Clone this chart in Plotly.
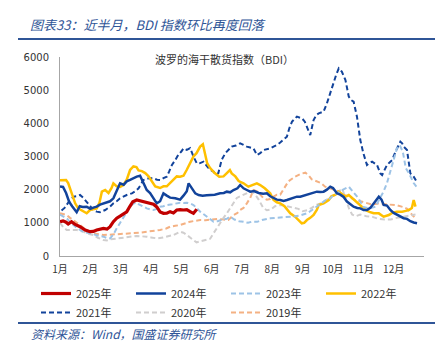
import plotly.graph_objects as go

# ---------------- data (x = month offset from Jan 1, y = BDI) ----------------
month_labels = ["1月", "2月", "3月", "4月", "5月", "6月", "7月", "8月", "9月", "10月", "11月", "12月"]

x_2025 = [0, 0.1, 0.2, 0.27, 0.38, 0.5, 0.66, 0.83, 0.99, 1.1, 1.21, 1.32, 1.43, 1.55, 1.65, 1.76, 1.87, 1.98,
          2.1, 2.2, 2.3, 2.4, 2.53, 2.65, 2.75, 2.86, 2.97, 3.08, 3.19, 3.3, 3.41, 3.52, 3.63, 3.74, 3.85, 3.96,
          4.07, 4.18, 4.29, 4.4, 4.51]
v_2025 = [1035, 1060, 1020, 965, 1035, 950, 884, 784, 733, 740, 784, 800, 834, 810, 884, 1035, 1140, 1200,
          1260, 1330, 1490, 1638, 1688, 1660, 1640, 1620, 1600, 1560, 1480, 1330, 1287, 1290, 1337, 1300, 1387, 1400,
          1387, 1400, 1337, 1287, 1407]

x_2024 = [0, 0.1, 0.2, 0.3, 0.4, 0.5, 0.55, 0.65, 0.75, 0.88, 1.0, 1.1, 1.21, 1.32, 1.43, 1.55, 1.65, 1.76, 1.87,
          1.98, 2.1, 2.2, 2.31, 2.42, 2.53, 2.64, 2.75, 2.86, 2.97, 3.08, 3.19, 3.3, 3.41, 3.52, 3.63, 3.8, 3.96,
          4.07, 4.18, 4.24, 4.35, 4.46, 4.57, 4.7, 4.84, 4.95, 5.1, 5.28, 5.4, 5.5, 5.61, 5.72, 5.85, 5.94, 6.05,
          6.16, 6.27, 6.4, 6.55, 6.7, 6.82, 6.93, 7.04, 7.15, 7.26, 7.37, 7.48, 7.6, 7.7, 7.81, 7.92, 8.03, 8.14,
          8.25, 8.36, 8.47, 8.58, 8.69, 8.8, 8.91, 9.0, 9.13, 9.24, 9.35, 9.46, 9.57, 9.68, 9.8, 9.9, 10.01, 10.12,
          10.23, 10.34, 10.45, 10.51, 10.6, 10.67, 10.78, 10.89, 11.0, 11.11, 11.22, 11.33, 11.44, 11.55, 11.66, 11.77]
v_2024 = [2094, 2080, 1900, 1640, 1500, 1400, 1320, 1500, 1480, 1487, 1420, 1460, 1487, 1550, 1588, 1620, 1650, 1739, 1990,
          2191, 2150, 2250, 2292, 2350, 2392, 2420, 2191, 1990, 1900, 1750, 1588, 1650, 1889, 1820, 1760, 1739, 1700,
          1820, 1950, 2191, 2050, 1889, 1839, 1820, 1830, 1839, 1850, 1889, 1900, 1940, 1920, 1990, 2040, 2141, 2040,
          1990, 1940, 1960, 1900, 1880, 1889, 1800, 1739, 1700, 1688, 1660, 1688, 1720, 1760, 1789, 1789, 1820, 1850,
          1889, 1910, 1940, 1930, 1940, 2000, 2090, 2050, 1890, 1850, 1780, 1640, 1560, 1487, 1450, 1437, 1387, 1387,
          1450, 1588, 1688, 1790, 1700, 1538, 1520, 1387, 1300, 1250, 1200, 1140, 1120, 1050, 1010, 990]

x_2023 = [0, 0.1, 0.22, 0.33, 0.44, 0.55, 0.66, 0.8, 0.99, 1.1, 1.21, 1.32, 1.43, 1.55, 1.65, 1.76, 1.87, 1.98,
          2.09, 2.2, 2.31, 2.42, 2.5, 2.6, 2.75, 2.86, 3.0, 3.08, 3.2, 3.3, 3.41, 3.52, 3.7, 3.85, 3.96, 4.07, 4.18,
          4.3, 4.4, 4.5, 4.62, 4.75, 4.9, 5.06, 5.2, 5.35, 5.5, 5.61, 5.75, 5.9, 6.05, 6.2, 6.33, 6.5, 6.66, 6.8,
          6.93, 7.1, 7.3, 7.5, 7.7, 7.9, 8.14, 8.3, 8.47, 8.6, 8.75, 8.91, 9.02, 9.15, 9.3, 9.52, 9.65, 9.84, 10.0,
          10.2, 10.4, 10.56, 10.67, 10.78, 10.95, 11.11, 11.2, 11.3, 11.4, 11.5, 11.66, 11.75]
v_2023 = [1250, 1200, 1136, 1030, 935, 850, 784, 720, 683, 650, 633, 600, 583, 540, 532, 650, 834, 1000,
          1186, 1330, 1488, 1580, 1610, 1560, 1480, 1437, 1400, 1387, 1420, 1488, 1500, 1538, 1560, 1590, 1608, 1600, 1608,
          1580, 1538, 1450, 1337, 1250, 1150, 1035, 1050, 1100, 1120, 1186, 1100, 1050, 1035, 1000, 1035, 1030, 1085, 1120,
          1136, 1150, 1160, 1180, 1190, 1220, 1287, 1380, 1487, 1588, 1680, 1739, 1840, 1900, 1990, 2090, 1950, 1739, 1480,
          1437, 1488, 1750, 1950, 2200, 2750, 3250, 3340, 3150, 2650, 2500, 2200, 2090]

x_2022 = [0, 0.1, 0.2, 0.27, 0.38, 0.5, 0.6, 0.7, 0.8, 0.88, 0.99, 1.1, 1.21, 1.3, 1.38, 1.49, 1.6, 1.7, 1.76,
          1.87, 1.98, 2.09, 2.2, 2.31, 2.42, 2.52, 2.59, 2.7, 2.81, 2.92, 3.03, 3.14, 3.3, 3.41, 3.52, 3.63, 3.74,
          3.85, 3.96, 4.07, 4.18, 4.29, 4.4, 4.5, 4.62, 4.71, 4.78, 4.85, 4.95, 5.1, 5.25, 5.39, 5.5, 5.6, 5.66,
          5.78, 5.89, 6.05, 6.21, 6.35, 6.49, 6.6, 6.75, 6.93, 7.04, 7.15, 7.26, 7.4, 7.59, 7.75, 7.85, 7.97, 8.05,
          8.14, 8.25, 8.36, 8.47, 8.53, 8.69, 8.86, 8.95, 9.08, 9.19, 9.3, 9.41, 9.52, 9.7, 9.9, 10.07, 10.2, 10.34,
          10.51, 10.67, 10.84, 10.95, 11.11, 11.28, 11.4, 11.5, 11.6, 11.66, 11.72]
v_2022 = [2285, 2290, 2290, 2200, 1889, 1588, 1437, 1380, 1337, 1287, 1387, 1420, 1437, 1600, 1940, 1990, 1900, 2050, 2191,
          2100, 2080, 2141, 2300, 2593, 2700, 2680, 2580, 2560, 2500, 2400, 2241, 2100, 2050, 2100, 2100, 2200, 2300,
          2400, 2390, 2420, 2600, 2800, 3000, 3100, 3300, 3369, 3100, 2800, 2650, 2500, 2390, 2400, 2500, 2593, 2490,
          2400, 2260, 2191, 2090, 2150, 2191, 2140, 2040, 1890, 1688, 1620, 1588, 1500, 1286, 1186, 1080, 985, 1000,
          1085, 1150, 1236, 1400, 1538, 1588, 1688, 1800, 1850, 1940, 1850, 1790, 1839, 1700, 1537, 1387, 1330, 1287,
          1286, 1186, 1236, 1300, 1337, 1337, 1360, 1387, 1450, 1688, 1487]

x_2021 = [0.05, 0.15, 0.3, 0.45, 0.55, 0.66, 0.77, 0.88, 1.0, 1.1, 1.21, 1.32, 1.49, 1.65, 1.76, 1.87, 1.98, 2.09,
          2.2, 2.37, 2.48, 2.59, 2.75, 2.92, 3.08, 3.2, 3.3, 3.41, 3.52, 3.6, 3.69, 3.8, 3.9, 4.0, 4.07, 4.18, 4.29,
          4.4, 4.51, 4.62, 4.73, 4.85, 4.95, 5.06, 5.15, 5.22, 5.33, 5.45, 5.55, 5.66, 5.8, 5.94, 6.05, 6.16, 6.27,
          6.38, 6.49, 6.6, 6.71, 6.82, 6.93, 7.04, 7.15, 7.26, 7.37, 7.48, 7.56, 7.65, 7.81, 7.98, 8.07, 8.14, 8.25,
          8.36, 8.45, 8.53, 8.69, 8.8, 8.9, 9.02, 9.1, 9.19, 9.29, 9.41, 9.52, 9.6, 9.68, 9.79, 9.9, 10.0, 10.12,
          10.2, 10.29, 10.45, 10.56, 10.62, 10.7, 10.78, 10.9, 10.95, 11.06, 11.15, 11.22, 11.28, 11.33, 11.44,
          11.55, 11.66, 11.77]
v_2021 = [1374, 1450, 1650, 1789, 1800, 1839, 1750, 1638, 1500, 1387, 1337, 1320, 1387, 1488, 1588, 1650, 1739, 1800,
          1839, 1889, 1950, 2040, 2292, 2343, 2343, 2300, 2292, 2350, 2392, 2550, 2744, 2894, 3050, 3150, 3246, 3200, 3250,
          3000, 2794, 2800, 2844, 2700, 2600, 2543, 2450, 2500, 2900, 3100, 3200, 3300, 3330, 3397, 3350, 3296, 3270,
          3246, 3045, 3100, 3196, 3220, 3246, 3300, 3347, 3420, 3497, 3598, 3850, 4050, 4201, 4151, 4050, 3899, 3648,
          4100, 4250, 4301, 4352, 4603, 4900, 5206, 5450, 5658, 5558, 5306, 4804, 4700, 4653, 4201, 3497, 3100, 2744,
          2800, 2844, 2744, 2493, 2442, 2600, 2744, 2850, 2894, 3146, 3300, 3447, 3397, 3296, 3196,
          2492, 2392, 2217]

x_2020 = [0, 0.1, 0.22, 0.4, 0.55, 0.77, 0.9, 1.1, 1.25, 1.43, 1.55, 1.65, 1.87, 2.0, 2.2, 2.4, 2.53, 2.7, 2.86,
          3.0, 3.19, 3.4, 3.6, 3.74, 3.96, 4.07, 4.18, 4.3, 4.4, 4.5, 4.62, 4.8, 4.95, 5.06, 5.17, 5.28, 5.39, 5.5,
          5.61, 5.72, 5.83, 5.94, 6.05, 6.16, 6.27, 6.4, 6.55, 6.7, 6.82, 6.95, 7.09, 7.3, 7.5, 7.7, 7.86, 8.0,
          8.15, 8.3, 8.47, 8.63, 8.8, 8.95, 9.1, 9.2, 9.3, 9.41, 9.52, 9.63, 9.75, 9.9, 10.1, 10.3, 10.5, 10.7, 10.9,
          11.1, 11.3, 11.5, 11.72]
v_2020 = [1000, 880, 784, 780, 784, 733, 680, 633, 550, 482, 470, 500, 532, 550, 563, 590, 603, 600, 583,
          560, 532, 560, 600, 633, 733, 700, 633, 550, 482, 410, 440, 480, 520, 683, 850, 985, 1150, 1287,
          1450, 1588, 1750, 1800, 1850, 1900, 1940, 1900, 1700, 1450, 1380, 1400, 1500, 1540, 1500, 1450, 1420, 1350,
          1380, 1450, 1550, 1600, 1700, 1800, 1850, 1950, 2040, 1750, 1450, 1250, 1200, 1250, 1200, 1180, 1120, 1100, 1100,
          1150, 1180, 1220, 1250]

x_2019 = [0, 0.1, 0.22, 0.33, 0.44, 0.55, 0.66, 0.77, 0.88, 1.0, 1.1, 1.25, 1.43, 1.6, 1.8, 2.09, 2.42, 2.6, 2.86,
          3.1, 3.3, 3.5, 3.63, 3.8, 3.96, 4.15, 4.29, 4.45, 4.62, 4.8, 5.0, 5.2, 5.39, 5.55, 5.72, 5.85, 5.94, 6.05,
          6.16, 6.27, 6.38, 6.5, 6.6, 6.7, 6.82, 6.93, 7.04, 7.15, 7.26, 7.4, 7.53, 7.75, 7.95, 8.09, 8.2, 8.3, 8.45,
          8.6, 8.74, 8.9, 9.02, 9.19, 9.35, 9.5, 9.7, 9.9, 10.1, 10.3, 10.5, 10.7, 10.9, 11.1, 11.3, 11.45, 11.6, 11.72]
v_2019 = [1287, 1270, 1236, 1150, 1085, 1000, 935, 850, 784, 720, 683, 650, 633, 640, 650, 663, 683, 700, 733,
          760, 784, 830, 884, 910, 935, 990, 1035, 1060, 1085, 1080, 1100, 1120, 1100, 1085, 1236, 1300, 1387, 1450,
          1588, 1750, 1990, 1950, 1850, 1750, 1700, 1720, 1790, 1850, 1850, 2050, 2250, 2392, 2480, 2512, 2430, 2311, 2250,
          2200, 2090, 2050, 2000, 1950, 1850, 1800, 1700, 1650, 1600, 1550, 1580, 1560, 1540, 1530, 1480, 1420, 1250, 1136]

# ---------------- styling ----------------
DARK = "#12439B"
series = [
    ("2019年", x_2019, v_2019, "#F4B183", 2, "5px,3px"),
    ("2020年", x_2020, v_2020, "#D0CECE", 2, "5px,3px"),
    ("2021年", x_2021, v_2021, DARK, 2, "5px,3px"),
    ("2022年", x_2022, v_2022, "#FFC000", 2.5, "solid"),
    ("2023年", x_2023, v_2023, "#9DC3E6", 2, "5px,3px"),
    ("2024年", x_2024, v_2024, DARK, 2.5, "solid"),
    ("2025年", x_2025, v_2025, "#C00000", 3.2, "solid"),
]
rank = {"2025年": 1, "2024年": 2, "2023年": 3, "2022年": 4, "2021年": 5, "2020年": 6, "2019年": 7}

FONT = "Noto Sans CJK SC"
fig = go.Figure()
for name, xs, ys, color, w, dash in series:
    fig.add_trace(go.Scatter(x=xs, y=ys, mode="lines", name=name, legendrank=rank[name],
                             line=dict(color=color, width=w, dash=dash)))

W, H = 447, 343
L, R, T, B = 60, 23, 57, 87
pw, ph = W - L - R, H - T - B
def px_x(x): return (x - L) / pw
def px_y(y): return (H - B - y) / ph

TITLE_BLUE = "#2F5597"
fig.update_layout(
    width=W, height=H,
    margin=dict(l=L, r=R, t=T, b=B, pad=0),
    paper_bgcolor="white", plot_bgcolor="white",
    font=dict(family=FONT, size=10, color="#333333"),
    showlegend=True,
    legend=dict(orientation="h", x=px_x(36), y=px_y(279), xanchor="left", yanchor="top",
                entrywidth=50, entrywidthmode="pixels", tracegroupgap=0,
                font=dict(family=FONT, size=11, color="#333333"), bgcolor="rgba(0,0,0,0)"),
    xaxis=dict(range=[0, 12], tickvals=list(range(12)), ticktext=month_labels, showgrid=False,
               zeroline=False, showline=True, linecolor="#A6A6A6", linewidth=1, ticks="",
               tickfont=dict(family=FONT, size=10, color="#333333"), ticklabelstandoff=4, fixedrange=True),
    yaxis=dict(range=[0, 6000], dtick=1000, showgrid=False, zeroline=False, showline=True,
               linecolor="#A6A6A6", linewidth=1, ticks="",
               tickfont=dict(family="DejaVu Sans", size=10, color="#333333"), ticklabelstandoff=8, fixedrange=True),
    annotations=[
        dict(text="<i>图表33：近半月，BDI 指数环比再度回落</i>", xref="paper", yref="paper",
             x=px_x(28), y=px_y(24), xanchor="left", yanchor="middle", showarrow=False,
             font=dict(family=FONT, size=13, color=TITLE_BLUE)),
        dict(text="波罗的海干散货指数（BDI）", xref="paper", yref="paper",
             x=px_x(224), y=px_y(59), xanchor="center", yanchor="middle", showarrow=False,
             font=dict(family=FONT, size=11, color="#333333")),
        dict(text="<i>资料来源：Wind，国盛证券研究所</i>", xref="paper", yref="paper",
             x=px_x(29), y=px_y(333), xanchor="left", yanchor="middle", showarrow=False,
             font=dict(family=FONT, size=12, color=TITLE_BLUE)),
    ],
    shapes=[
        dict(type="line", xref="paper", yref="paper", x0=px_x(18), x1=px_x(435), y0=px_y(39), y1=px_y(39),
             line=dict(color=TITLE_BLUE, width=2)),
        dict(type="line", xref="paper", yref="paper", x0=px_x(18), x1=px_x(435), y0=px_y(323), y1=px_y(323),
             line=dict(color=TITLE_BLUE, width=2)),
    ],
)

fig.write_html("out.html", config={"displayModeBar": False})
